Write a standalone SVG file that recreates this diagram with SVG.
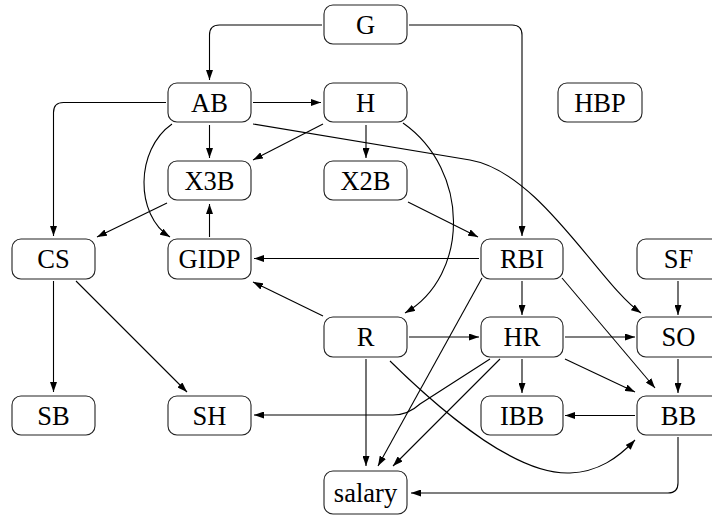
<svg xmlns="http://www.w3.org/2000/svg" width="712" height="516" viewBox="0 0 712 516">
<defs>
<marker id="ah" markerUnits="userSpaceOnUse" markerWidth="10" markerHeight="7" refX="10" refY="3.5" orient="auto">
<path d="M0,0 L10,3.5 L0,7 z" fill="#000"/>
</marker>
<style>
.n rect{fill:#fff;stroke:#222;stroke-width:1.1}
.n text{font-family:'Liberation Serif','Times New Roman',serif;font-size:26.5px;text-anchor:middle;fill:#000}
#edges path{fill:none;stroke:#000;stroke-width:1.1;marker-end:url(#ah)}
</style>
</defs>
<rect width="712" height="516" fill="#fff"/>
<g id="edges">
<path d="M322 25 H219.5 Q209.5 25 209.5 35 V80"/>
<path d="M409 25 H512 Q522 25 522 35 V236"/>
<path d="M253 102.5 H321"/>
<path d="M166 102.5 H63.5 Q53.5 102.5 53.5 112.5 V236"/>
<path d="M209.5 125 V158"/>
<path d="M172 124 C135 150 135 215 170 237"/>
<path d="M253 124 L470 160 C540 172 600 285 641 313"/>
<path d="M323 124 L253 160"/>
<path d="M366 125 V158"/>
<path d="M403 123 C470 170 470 275 405 313"/>
<path d="M408 202 L478 237"/>
<path d="M167 203 L97 237"/>
<path d="M209.5 237 V204"/>
<path d="M479 258.5 H254"/>
<path d="M323 316 L253 282"/>
<path d="M53.5 281 V392"/>
<path d="M76 281 L187 392"/>
<path d="M490 359 L420 404 Q408 415 393 415 H254"/>
<path d="M522 281 V315"/>
<path d="M482 278 L378 466"/>
<path d="M562 278 L655 388"/>
<path d="M565 359 L635 392"/>
<path d="M565 337 H635"/>
<path d="M522 359 V393"/>
<path d="M500 359 L393 466"/>
<path d="M409 337 H479"/>
<path d="M366 359 V466"/>
<path d="M390 361 C450 420 520 475 570 473 C598 472 618 458 635 440"/>
<path d="M678 281 V315"/>
<path d="M678 359 V393"/>
<path d="M635 415.5 H565"/>
<path d="M678 437 V483 Q678 493 668 493 H411"/>
</g>
<g id="G" class="n"><rect x="324" y="5" width="83" height="39" rx="9"/><text x="365.5" y="33.5">G</text></g>
<g id="AB" class="n"><rect x="168" y="83" width="83" height="39" rx="9"/><text x="209.5" y="111.5">AB</text></g>
<g id="H" class="n"><rect x="324" y="83" width="83" height="39" rx="9"/><text x="365.5" y="111.5">H</text></g>
<g id="HBP" class="n"><rect x="558" y="83" width="84" height="39" rx="9"/><text x="600" y="111.5">HBP</text></g>
<g id="X3B" class="n"><rect x="168" y="161" width="83" height="39" rx="9"/><text x="209.5" y="189.5">X3B</text></g>
<g id="X2B" class="n"><rect x="324" y="161" width="83" height="39" rx="9"/><text x="365.5" y="189.5">X2B</text></g>
<g id="CS" class="n"><rect x="12" y="239" width="83" height="40" rx="9"/><text x="53.5" y="267.5">CS</text></g>
<g id="GIDP" class="n"><rect x="168" y="239" width="83" height="40" rx="9"/><text x="209.5" y="267.5">GIDP</text></g>
<g id="RBI" class="n"><rect x="481" y="239" width="82" height="40" rx="9"/><text x="522" y="267.5">RBI</text></g>
<g id="SF" class="n"><rect x="637" y="239" width="83" height="40" rx="9"/><text x="678.5" y="267.5">SF</text></g>
<g id="R" class="n"><rect x="324" y="317" width="83" height="40" rx="9"/><text x="365.5" y="346">R</text></g>
<g id="HR" class="n"><rect x="481" y="317" width="82" height="40" rx="9"/><text x="522" y="346">HR</text></g>
<g id="SO" class="n"><rect x="637" y="317" width="83" height="40" rx="9"/><text x="678.5" y="346">SO</text></g>
<g id="SB" class="n"><rect x="12" y="396" width="83" height="39" rx="9"/><text x="53.5" y="424.5">SB</text></g>
<g id="SH" class="n"><rect x="168" y="396" width="83" height="39" rx="9"/><text x="209.5" y="424.5">SH</text></g>
<g id="IBB" class="n"><rect x="481" y="396" width="82" height="39" rx="9"/><text x="522" y="424.5">IBB</text></g>
<g id="BB" class="n"><rect x="637" y="396" width="83" height="39" rx="9"/><text x="678.5" y="424.5">BB</text></g>
<g id="salary" class="n"><rect x="324" y="471" width="83" height="43" rx="9"/><text x="365.5" y="502">salary</text></g>
</svg>
